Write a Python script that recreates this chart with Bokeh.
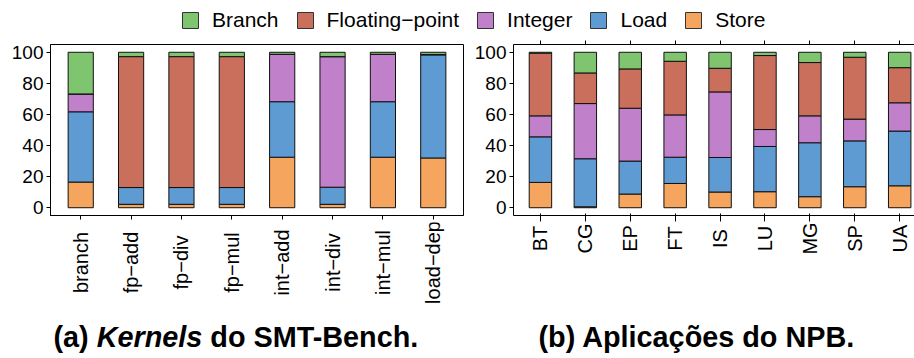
import math
from bokeh.plotting import figure
from bokeh.layouts import column, row
from bokeh.models import (ColumnDataSource, Range1d, FixedTicker,
                          Legend, LegendItem, LinearAxis)
from bokeh.core.properties import value
from bokeh.embed import file_html
from bokeh.resources import INLINE

# ---------------- data ----------------
series = ["Store", "Load", "Integer", "Floating\u2212point", "Branch"]  # bottom -> top
legend_order = ["Branch", "Floating\u2212point", "Integer", "Load", "Store"]
colors = {"Branch": "#7fc56f", "Floating\u2212point": "#c96f5b", "Integer": "#c080ca",
          "Load": "#5f9bd3", "Store": "#f6a55e"}

kernels = ["branch", "fp\u2212add", "fp\u2212div", "fp\u2212mul", "int\u2212add",
           "int\u2212div", "int\u2212mul", "load\u2212dep"]
store_k = [16.5, 2.2, 2.2, 2.2, 32.5, 2.2, 32.5, 32.0]
load_k = [45.2, 10.8, 10.8, 10.8, 35.7, 11.0, 35.7, 66.3]
int_k = [11.5, 0.0, 0.0, 0.0, 30.5, 84.0, 30.5, 0.3]
fp_k = [0.0, 84.2, 84.2, 84.2, 0.0, 0.0, 0.0, 0.0]
branch_k = [26.8, 2.8, 2.8, 2.8, 1.3, 2.8, 1.3, 1.4]

npb = ["BT", "CG", "EP", "FT", "IS", "LU", "MG", "SP", "UA"]
store_n = [16.3, 0.6, 8.8, 15.6, 10.1, 10.3, 7.1, 13.5, 14.1]
load_n = [29.3, 30.9, 21.2, 16.9, 22.2, 29.1, 34.7, 29.5, 35.2]
int_n = [13.5, 35.5, 34.0, 27.2, 42.2, 10.9, 17.3, 14.0, 18.2]
fp_n = [40.3, 19.7, 25.3, 34.5, 15.2, 47.6, 34.3, 39.8, 22.6]
branch_n = [0.6, 13.3, 10.7, 5.8, 10.3, 2.1, 6.6, 3.2, 9.9]

y_ticks = [0, 20, 40, 60, 80, 100]

FONT = value("Liberation Sans")


def clean(p):
    p.axis.visible = False
    p.grid.visible = False
    p.outline_line_color = None
    p.background_fill_color = None
    p.border_fill_color = None


def panel(cats, vals, width, min_left, min_right, x_end, label_y, outline):
    idx = list(range(1, len(cats) + 1))
    data = {"x": idx, "cat": cats}
    for s, v in zip(series, vals):
        data[s] = v
    src = ColumnDataSource(data)
    xr = Range1d(0.4, x_end)
    p = figure(width=width, height=184, output_backend="svg", toolbar_location=None,
               x_range=xr, y_range=Range1d(-5, 105),
               min_border_left=min_left, min_border_right=min_right,
               min_border_top=6, min_border_bottom=7)
    p.vbar_stack(series, x="x", width=0.5, source=src,
                 fill_color=[colors[s] for s in series],
                 line_color="#111111", line_width=1)
    p.xgrid.visible = False
    p.ygrid.visible = False
    if outline:
        p.outline_line_color = "black"
        p.outline_line_width = 1
    else:
        p.outline_line_color = None
        top = LinearAxis(ticker=FixedTicker(ticks=[]), axis_line_color="black",
                         major_tick_out=0, major_tick_in=0, minor_tick_out=0,
                         major_label_text_font_size="1px", major_label_standoff=0)
        p.add_layout(top, "above")
    for ax in (p.xaxis[0], p.yaxis[0]):
        ax.axis_line_color = "black"
        ax.axis_line_width = 1
        ax.major_tick_line_color = "black"
        ax.major_tick_out = 4
        ax.major_tick_in = 0
        ax.minor_tick_line_color = None
    p.yaxis.ticker = FixedTicker(ticks=y_ticks)
    p.yaxis.major_label_text_font = "Liberation Sans"
    p.yaxis.major_label_text_font_size = "19px"
    p.yaxis.major_label_text_color = "black"
    p.yaxis.major_label_standoff = 3
    p.xaxis.ticker = FixedTicker(ticks=idx)
    p.xaxis.major_label_overrides = {i: "" for i in idx}
    p.xaxis.major_label_text_font_size = "1px"
    p.xaxis.major_label_standoff = 0

    # strip holding the rotated category labels, sharing the x range
    s = figure(width=width, height=90, output_backend="svg", toolbar_location=None,
               x_range=xr, y_range=Range1d(0, 90),
               min_border_left=min_left, min_border_right=min_right,
               min_border_top=0, min_border_bottom=0)
    clean(s)
    s.text(x=idx, y=[label_y] * len(idx), text=cats, angle=math.pi / 2,
           text_align="center", text_baseline="middle",
           text_font=FONT, text_font_size="20px", text_color="black")
    return p, s


p1, s1 = panel(kernels, [store_k, load_k, int_k, fp_k, branch_k], 466, 50, 3, 8.6, 50, True)
p2, s2 = panel(npb, [store_n, load_n, int_n, fp_n, branch_n], 448, 47, 0, 9.33, 74, False)

# ---------------- legend strip ----------------
pl = figure(width=914, height=38, output_backend="svg", toolbar_location=None,
            x_range=Range1d(0, 1), y_range=Range1d(0, 1), min_border=0)
clean(pl)
items = []
for s in legend_order:
    r = pl.vbar(x=[5], top=[1], width=0.5, fill_color=colors[s], line_color="#333333",
                line_width=1)
    items.append(LegendItem(label=s, renderers=[r]))
leg = Legend(items=items, orientation="horizontal", location=(180, 6),
             glyph_width=20, glyph_height=20, label_standoff=12, spacing=16,
             padding=0, margin=0, border_line_color=None, background_fill_alpha=0,
             label_text_font="Liberation Sans", label_text_font_size="21px",
             label_text_color="black", label_height=20)
pl.add_layout(leg, "center")

# ---------------- captions ----------------
pc = figure(width=914, height=46, output_backend="svg", toolbar_location=None,
            x_range=Range1d(0, 914), y_range=Range1d(0, 46), min_border=0)
clean(pc)
cap_size = "28.8px"
cap_y = 22
pc.text(x=[53, 538], y=[cap_y, cap_y], text=["(a)", "(b) Aplica\u00e7\u00f5es do NPB."],
        text_font=FONT, text_font_style="bold", text_font_size=cap_size,
        text_baseline="alphabetic", text_align="left", text_color="black")
pc.text(x=[96.2], y=[cap_y], text=["Kernels"], text_font=FONT, text_font_style="bold italic",
        text_font_size=cap_size, text_baseline="alphabetic", text_align="left",
        text_color="black")
pc.text(x=[209.8], y=[cap_y], text=["do SMT-Bench."], text_font=FONT, text_font_style="bold",
        text_font_size=cap_size, text_baseline="alphabetic", text_align="left",
        text_color="black")

layout = column(pl, row(p1, p2), row(s1, s2), pc)
open("out.html", "w").write(file_html(layout, INLINE))
